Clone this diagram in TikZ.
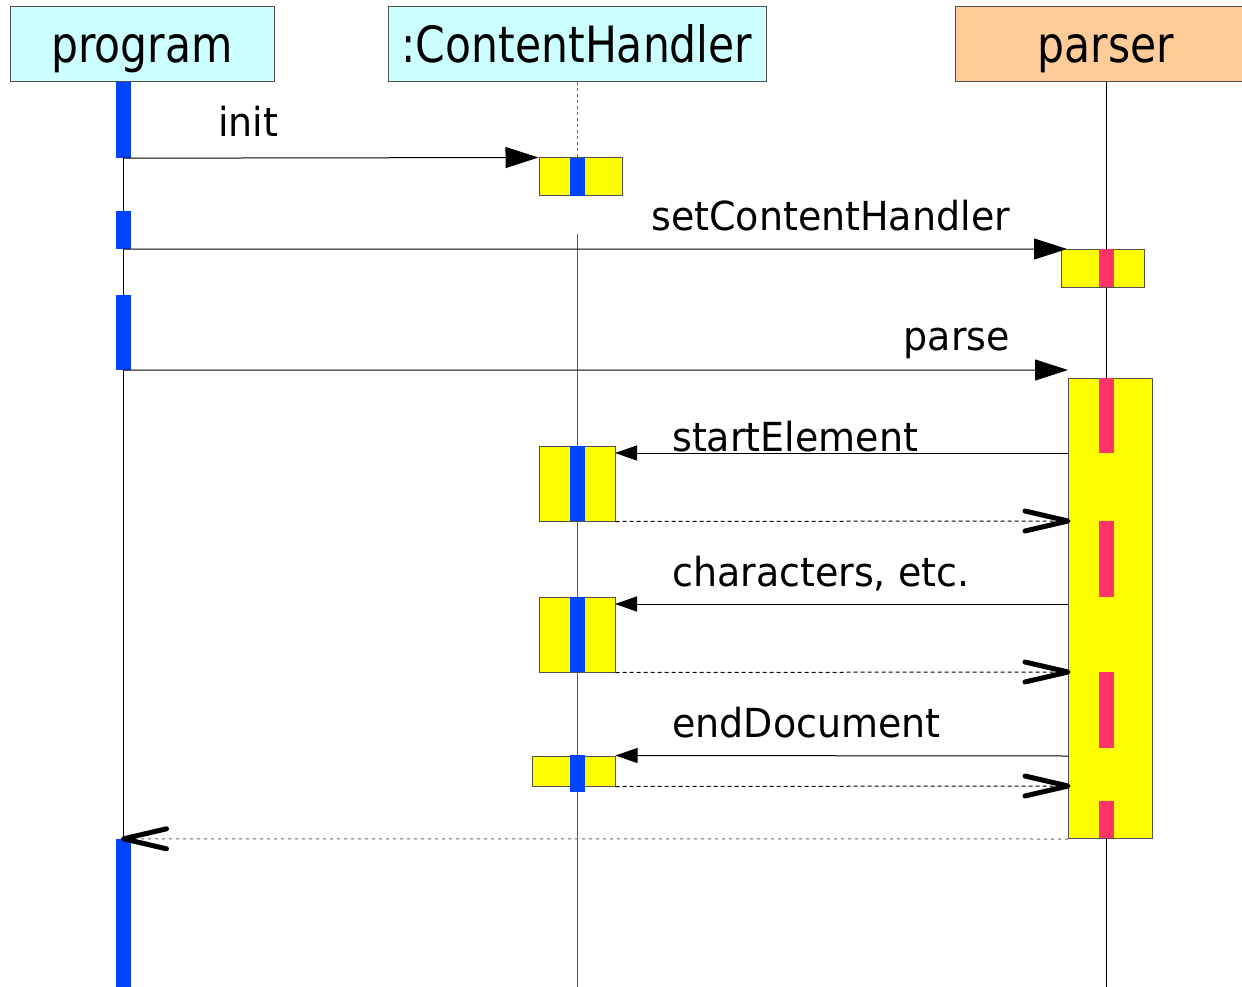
\documentclass[tikz,border=0pt]{standalone}
\usepackage{fontspec}
\setmainfont{DejaVu Sans}
\newfontfamily\boxfont{DejaVu Sans}[FakeStretch=0.85]
\newfontfamily\msgfont{DejaVu Sans}[FakeStretch=0.95]
\usetikzlibrary{arrows.meta}
\definecolor{lcyan}{HTML}{CCFFFF}
\definecolor{lorange}{HTML}{FFCC99}
\definecolor{ayellow}{HTML}{FFFF00}
\definecolor{ablue}{HTML}{0044FF}
\definecolor{ared}{HTML}{FF3366}
\definecolor{bordergray}{HTML}{505050}
\begin{document}
\begin{tikzpicture}[x=1pt,y=-1pt,
  obj/.style={draw=bordergray, line width=1pt, inner sep=0pt, minimum height=75pt,
    text height=37pt, text depth=0pt, font=\boxfont\fontsize{50}{60}\selectfont},
  act/.style={draw=bordergray, fill=ayellow, line width=1pt, inner sep=0pt},
  bluebar/.style={fill=ablue, inner sep=0pt, minimum width=15pt},
  redbar/.style={fill=ared, inner sep=0pt, minimum width=15pt},
  lifeline/.style={line width=1pt, draw=black!85},
  msg/.style={inner sep=0pt, font=\msgfont\fontsize{40}{48}\selectfont},
  call/.style={line width=1pt, -{Triangle[length=33pt,width=21pt]}},
  cback/.style={line width=1pt, -{Triangle[length=22pt,width=15pt]}},
  ret/.style={line width=1pt, dash pattern=on 4pt off 3pt},
  finalret/.style={line width=1pt, draw=black!60, dash pattern=on 3pt off 4pt},
  vtip/.pic={\draw[black, line width=5pt, line cap=round, line join=round]
    (-43,-10) -- (0,0) -- (-43,10);}
]
\useasboundingbox (0,0) rectangle (1242,987);
\clip (0,0) rectangle (1242,987);

% object boxes
\node[obj, fill=lcyan, minimum width=264pt] (prog) at (142,44.5) {program};
\node[obj, fill=lcyan, minimum width=378pt] (ch) at (577,44.5) {:ContentHandler};
\node[obj, fill=lorange, minimum width=302pt] (pars) at (1106,44.5) {parser};

% lifelines
\coordinate (progend) at (123,995);
\coordinate (chtop) at (577,82);
\coordinate (chmid) at (577,234);
\coordinate (chend) at (577,995);
\coordinate (parsend) at (1106,995);
\draw[lifeline, draw=black] (123,82) -- (progend);
\draw[line width=1pt, draw=black!60, dash pattern=on 3pt off 3pt] (chtop) -- (577,158);
\draw[lifeline, draw=black!65] (chmid) -- (chend);
\draw[lifeline, draw=black] (1106,82) -- (parsend);

% program activations
\node[bluebar, minimum height=76pt] (pa1) at (123.5,120) {};
\node[bluebar, minimum height=38pt] (pa2) at (123.5,230) {};
\node[bluebar, minimum height=75pt] (pa3) at (123.5,332.5) {};
\node[bluebar, minimum height=156pt] (pa4) at (123.5,917) {};

% ContentHandler activations
\node[act, minimum width=83pt, minimum height=38pt] (ca1) at (580.5,177) {};
\node[bluebar, minimum height=38pt] (cb1) at (577.5,177) {};
\node[act, minimum width=76pt, minimum height=75pt] (ca2) at (577,483.5) {};
\node[bluebar, minimum height=75pt] (cb2) at (577.5,483.5) {};
\node[act, minimum width=76pt, minimum height=75pt] (ca3) at (577,634.5) {};
\node[bluebar, minimum height=75pt] (cb3) at (577.5,634.5) {};
\node[act, minimum width=83pt, minimum height=30pt] (ca4) at (573.5,771) {};
\node[bluebar, minimum height=37pt] (cb4) at (577.5,773.5) {};

% parser activations
\node[act, minimum width=83pt, minimum height=38pt] (ra1) at (1102.5,268) {};
\node[redbar, minimum height=38pt] (rb1) at (1106.5,268) {};
\node[act, minimum width=84pt, minimum height=460pt] (ra2) at (1110,608) {};
\node[redbar, minimum height=75pt] (rd1) at (1106.5,415.5) {};
\node[redbar, minimum height=76pt] (rd2) at (1106.5,559) {};
\node[redbar, minimum height=76pt] (rd3) at (1106.5,710) {};
\node[redbar, minimum height=37pt] (rd4) at (1106.5,819.5) {};

% message end points
\coordinate (setend) at (1067,249);
\coordinate (parseend) at (1068,370);
\coordinate (se1) at (1068,453);
\coordinate (se2) at (615,453);
\coordinate (r1) at (1068,521);
\coordinate (ce1) at (1068,604);
\coordinate (ce2) at (615,604);
\coordinate (r2) at (1068,672);
\coordinate (ed1) at (1068,756);
\coordinate (r3) at (1068,786);
\coordinate (fr) at (1068,839);

% messages
\draw[call] (pa1.south) -- (ca1.north west);
\draw[call] (pa2.south) -- (setend);
\draw[call] (pa3.south) -- (parseend);
\draw[cback] (se1) -- (se2);
\draw[ret] (ca2.south east) -- (r1);
\draw[cback] (ce1) -- (ce2);
\draw[ret] (ca3.south east) -- (r2);
\draw[cback] (ed1) -- (ca4.north east);
\draw[ret] (ca4.south east) -- (r3);
\draw[finalret] (fr) -- (pa4.north);

% open arrowheads of the returns
\pic at (r1) {vtip};
\pic at (r2) {vtip};
\pic at (r3) {vtip};
\pic[xscale=-1] at (pa4.north) {vtip};

% labels
\node[msg, anchor=base west] (linit) at (218,137) {init};
\node[msg, anchor=base west] (lset) at (651,231) {setContentHandler};
\node[msg, anchor=base east] (lparse) at (1010,350) {parse};
\node[msg, anchor=base west] (lstart) at (672,451) {startElement};
\node[msg, anchor=base west] (lchars) at (672,586) {characters, etc.};
\node[msg, anchor=base west] (lend) at (672,737) {endDocument};
\end{tikzpicture}
\end{document}
